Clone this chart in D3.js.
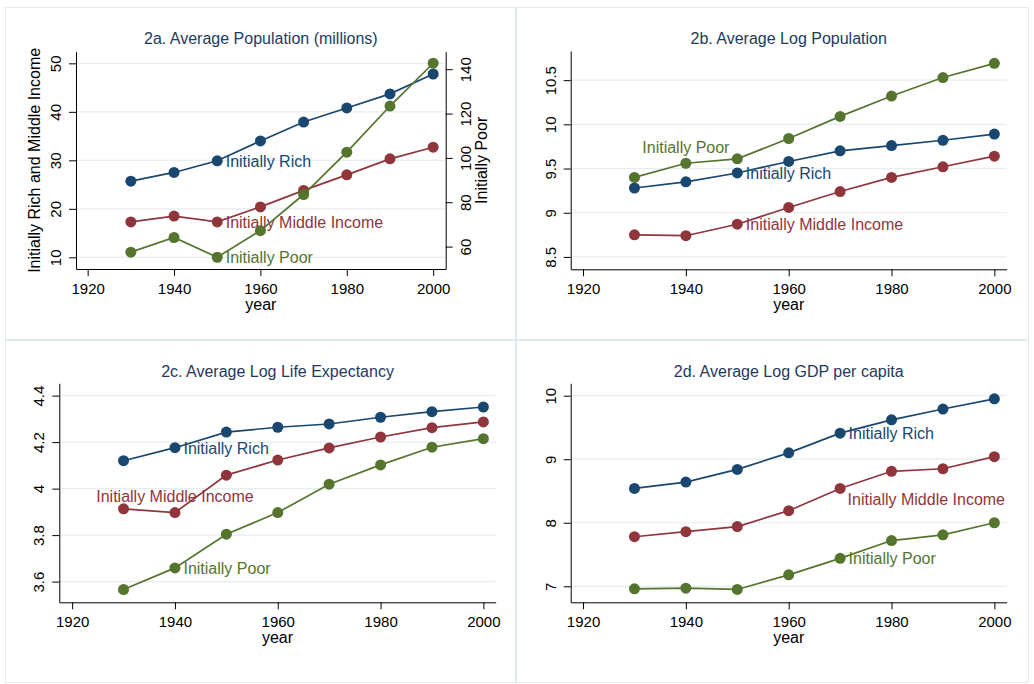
<!DOCTYPE html>
<html>
<head>
<meta charset="utf-8">
<script src="https://cdn.jsdelivr.net/npm/d3@7"></script>
<style>
  body { margin: 0; background: #fff; }
  svg { font-family: "Liberation Sans", Arial, Helvetica, sans-serif; }
</style>
</head>
<body>
<script>
// decades
const years = [1930, 1940, 1950, 1960, 1970, 1980, 1990, 2000];

// 2a population, millions (poor on right axis)
const popRich = [25.7, 27.5, 29.9, 34.0, 37.9, 40.8, 43.7, 47.8];
const popMiddle = [17.3, 18.5, 17.3, 20.4, 23.8, 27.0, 30.3, 32.7];
const popPoor = [57.5, 64.1, 55.2, 67.2, 83.5, 102.6, 123.4, 142.7];

// 2b log population
const logPopRich = [9.28, 9.35, 9.45, 9.58, 9.70, 9.76, 9.82, 9.89];
const logPopMiddle = [8.75, 8.74, 8.87, 9.06, 9.24, 9.40, 9.52, 9.64];
const logPopPoor = [9.40, 9.56, 9.61, 9.84, 10.09, 10.32, 10.53, 10.69];

// 2c log life expectancy
const lifeRich = [4.120, 4.176, 4.243, 4.264, 4.278, 4.307, 4.331, 4.351];
const lifeMiddle = [3.913, 3.897, 4.058, 4.123, 4.175, 4.222, 4.262, 4.287];
const lifePoor = [3.566, 3.659, 3.804, 3.897, 4.019, 4.102, 4.178, 4.215];

// 2d log gdp per capita
const gdpRich = [8.54, 8.64, 8.84, 9.10, 9.41, 9.62, 9.79, 9.95];
const gdpMiddle = [7.78, 7.86, 7.94, 8.19, 8.54, 8.81, 8.85, 9.04];
const gdpPoor = [6.96, 6.97, 6.95, 7.18, 7.44, 7.72, 7.81, 8.00];

// tick labels
const xTicks = [1920, 1940, 1960, 1980, 2000];
const popTicks = [10, 20, 30, 40, 50];
const popPoorTicks = [60, 80, 100, 120, 140];
const logPopTicks = [8.5, 9, 9.5, 10, 10.5];
const lifeTicks = [3.6, 3.8, 4, 4.2, 4.4];
const gdpTicks = [7, 8, 9, 10];

const navy = "#1a476f", maroon = "#90353b", green = "#55752f";
const titleColor = "#1e3a60";

const W = 1034, H = 684;
const svg = d3.select("body").append("svg")
  .attr("width", W)
  .attr("height", H);

svg.append("rect").attr("width", W).attr("height", H).attr("fill", "#fff");

const panels = [
  {
    title: "2a. Average Population (millions)",
    box: [5, 7, 510, 332], plot: [76, 445.7, 51.7, 269],
    xDom: [1917.3, 2002.9], yDom: [7.59, 52.4], yTicks: popTicks,
    yTitle: "Initially Rich and Middle Income",
    y2Dom: [49.9, 147.9], y2Ticks: popPoorTicks, y2Title: "Initially Poor",
    series: [
      { name: "Initially Rich", vals: popRich, color: navy, at: 1950, pos: 3 },
      { name: "Initially Middle Income", vals: popMiddle, color: maroon, at: 1950, pos: 3 },
      { name: "Initially Poor", vals: popPoor, color: green, at: 1950, pos: 3, right: true }
    ]
  },
  {
    title: "2b. Average Log Population",
    box: [516, 7, 512, 332], plot: [570.7, 1006.7, 51, 269.3],
    xDom: [1917.6, 2002.4], yDom: [8.36, 10.83], yTicks: logPopTicks,
    series: [
      { name: "Initially Rich", vals: logPopRich, color: navy, at: 1950, pos: 3 },
      { name: "Initially Middle Income", vals: logPopMiddle, color: maroon, at: 1950, pos: 3 },
      { name: "Initially Poor", vals: logPopPoor, color: green, at: 1940, pos: 12 }
    ]
  },
  {
    title: "2c. Average Log Life Expectancy",
    box: [5, 340, 510, 342], plot: [59.3, 495.7, 383.3, 602.3],
    xDom: [1917.5, 2002.4], yDom: [3.511, 4.453], yTicks: lifeTicks,
    series: [
      { name: "Initially Rich", vals: lifeRich, color: navy, at: 1940, pos: 3 },
      { name: "Initially Middle Income", vals: lifeMiddle, color: maroon, at: 1940, pos: 12 },
      { name: "Initially Poor", vals: lifePoor, color: green, at: 1940, pos: 3 }
    ]
  },
  {
    title: "2d. Average Log GDP per capita",
    box: [516, 340, 512, 342], plot: [570.7, 1006.7, 383.3, 602.3],
    xDom: [1917.6, 2002.4], yDom: [6.748, 10.195], yTicks: gdpTicks,
    series: [
      { name: "Initially Rich", vals: gdpRich, color: navy, at: 1970, pos: 3 },
      { name: "Initially Middle Income", vals: gdpMiddle, color: maroon, at: 1970, pos: 4 },
      { name: "Initially Poor", vals: gdpPoor, color: green, at: 1970, pos: 3 }
    ]
  }
];

panels.forEach(function (p) {
  const [bx, by, bw, bh] = p.box;
  const [x0, x1, y0, y1] = p.plot;

  svg.append("rect")
    .attr("x", bx + 0.5).attr("y", by + 0.5)
    .attr("width", bw).attr("height", bh)
    .attr("fill", "#fff")
    .attr("stroke", "#e1eaec");

  const x = d3.scaleLinear().domain(p.xDom).range([x0, x1]);
  const y = d3.scaleLinear().domain(p.yDom).range([y1, y0]);
  const y2 = p.y2Dom ? d3.scaleLinear().domain(p.y2Dom).range([y1, y0]) : null;

  // gridlines
  svg.append("g").selectAll("line")
    .data(p.yTicks)
    .join("line")
    .attr("x1", x0).attr("x2", x1)
    .attr("y1", d => y(d)).attr("y2", d => y(d))
    .attr("stroke", "#e6eef0")
    .attr("stroke-width", 1.2);

  // title
  svg.append("text")
    .attr("x", (x0 + x1) / 2)
    .attr("y", by + 37)
    .attr("text-anchor", "middle")
    .attr("font-size", 16)
    .attr("fill", titleColor)
    .text(p.title);

  // x axis
  const gx = svg.append("g")
    .attr("transform", `translate(0,${y1})`)
    .call(d3.axisBottom(x).tickValues(xTicks).tickFormat(d3.format("d")).tickSize(7).tickSizeOuter(0));
  gx.selectAll("text").attr("y", 25).attr("dy", 0).attr("font-size", 15).attr("fill", "#000");

  svg.append("text")
    .attr("x", (x0 + x1) / 2)
    .attr("y", y1 + 41)
    .attr("text-anchor", "middle")
    .attr("font-size", 16)
    .text("year");

  // left y axis
  const gy = svg.append("g")
    .attr("transform", `translate(${x0},0)`)
    .call(d3.axisLeft(y).tickValues(p.yTicks).tickFormat(d => String(d)).tickSize(7).tickSizeOuter(0));
  gy.selectAll("text")
    .attr("transform", "rotate(-90)")
    .attr("x", 0).attr("y", -15).attr("dy", 0)
    .attr("text-anchor", "middle")
    .attr("font-size", 15).attr("fill", "#000");

  if (p.yTitle) {
    svg.append("text")
      .attr("transform", `translate(${x0 - 36},${(y0 + y1) / 2}) rotate(-90)`)
      .attr("text-anchor", "middle")
      .attr("font-size", 16)
      .text(p.yTitle);
  }

  // right y axis (2a only)
  if (y2) {
    const gy2 = svg.append("g")
      .attr("transform", `translate(${x1},0)`)
      .call(d3.axisRight(y2).tickValues(p.y2Ticks).tickSize(7).tickSizeOuter(0));
    gy2.selectAll("text")
      .attr("transform", "rotate(-90)")
      .attr("x", 0).attr("y", 25).attr("dy", 0)
      .attr("text-anchor", "middle")
      .attr("font-size", 15).attr("fill", "#000");

    svg.append("text")
      .attr("transform", `translate(${x1 + 41},${(y0 + y1) / 2}) rotate(-90)`)
      .attr("text-anchor", "middle")
      .attr("font-size", 16)
      .text(p.y2Title);
  }

  [gx, gy].forEach(g => g.selectAll("path, line").attr("stroke", "#000"));

  // series
  p.series.forEach(function (s) {
    const ys = s.right ? y2 : y;
    const pts = years.map((yr, i) => [yr, s.vals[i]]);

    svg.append("path")
      .datum(pts)
      .attr("fill", "none")
      .attr("stroke", s.color)
      .attr("stroke-width", 1.7)
      .attr("d", d3.line().x(d => x(d[0])).y(d => ys(d[1])));

    svg.append("g").selectAll("circle")
      .data(pts)
      .join("circle")
      .attr("cx", d => x(d[0]))
      .attr("cy", d => ys(d[1]))
      .attr("r", 5.5)
      .attr("fill", s.color);

    const lp = pts.find(d => d[0] === s.at);
    const lx = x(lp[0]), ly = ys(lp[1]);
    const lab = svg.append("text")
      .attr("font-size", 16)
      .attr("fill", s.color)
      .text(s.name);
    if (s.pos === 3) {
      lab.attr("x", lx + 8.5).attr("y", ly + 6);
    } else if (s.pos === 12) {
      lab.attr("x", lx).attr("y", ly - 10.5).attr("text-anchor", "middle");
    } else {
      lab.attr("x", lx + 7.5).attr("y", ly + 16.5);
    }
  });
});
</script>
</body>
</html>
